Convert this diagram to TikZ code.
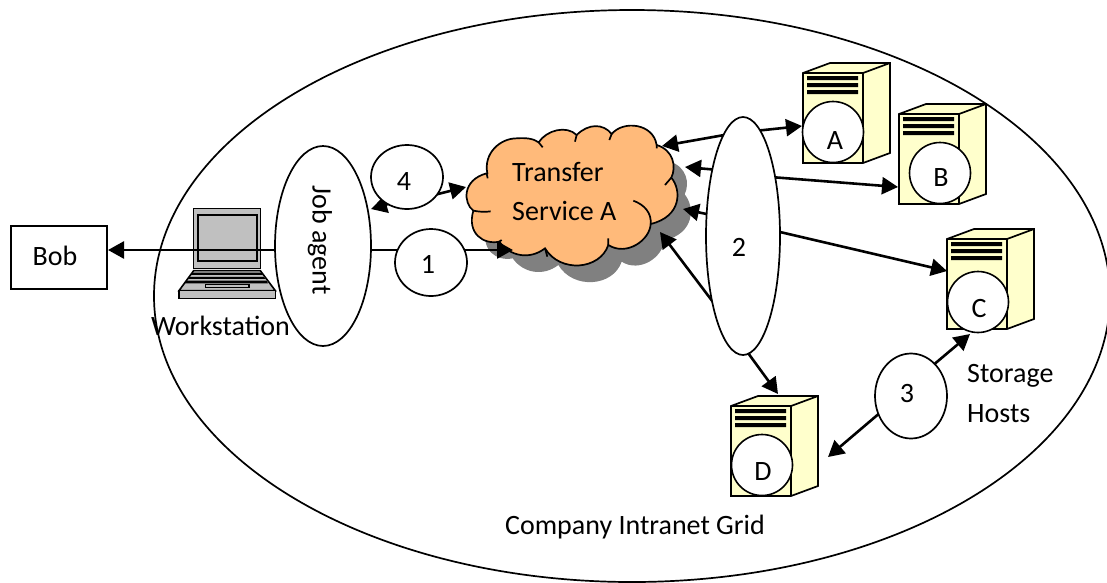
\documentclass[tikz,border=0pt]{standalone}
\usepackage{fontspec}
\setmainfont{Carlito}
\usetikzlibrary{shapes.geometric,arrows.meta}
\definecolor{srv}{RGB}{255,255,204}
\definecolor{cloudfill}{RGB}{255,186,122}
\definecolor{shadowgray}{RGB}{128,128,128}
\definecolor{lapgray}{RGB}{192,192,192}
\tikzset{
  x=1pt,y=-1pt,
  conn/.style={line width=2.6pt,-{Triangle[length=16pt,width=17pt]}},
  oval/.style={ellipse,draw,line width=1.7pt,fill=white,inner sep=0pt},
  txt/.style={font=\fontsize{28}{32}\selectfont,inner sep=0pt},
  disc/.style={circle,draw,line width=1.6pt,fill=white,minimum size=61pt,inner sep=0pt},
}
\newcommand{\cloudshape}{
  (82,190) .. controls (70,130) and (120,85) .. (170,85)
  .. controls (195,83) and (220,85) .. (236,97)
  .. controls (260,60) and (320,45) .. (350,75)
  .. controls (385,40) and (430,40) .. (455,72)
  .. controls (490,30) and (580,40) .. (590,105)
  .. controls (640,120) and (650,170) .. (634,203)
  .. controls (665,240) and (665,320) .. (572,342)
  .. controls (570,390) and (500,440) .. (445,405)
  .. controls (420,480) and (300,490) .. (255,415)
  .. controls (210,450) and (150,440) .. (118,395)
  .. controls (70,405) and (20,370) .. (40,302)
  .. controls (10,280) and (5,210) .. (80,190) -- cycle
}
\newcommand{\server}[2]{%
  \begin{scope}[shift={(#1,#2)},line width=1.7pt]
    \fill[srv,draw=black] (0,0) -- (27,-10) -- (87,-10) -- (87,80) -- (60,90) -- (0,90) -- cycle;
    \draw (0,0) -- (60,0) -- (60,90) (60,0) -- (87,-10);
    \fill[black] (4,3) rectangle (55,7) (4,10) rectangle (55,14) (4,17) rectangle (55,21);
  \end{scope}
}
\begin{document}
\begin{tikzpicture}
\useasboundingbox (0,0) rectangle (1107,582);
\fill[white] (0,0) rectangle (1107,582);
\node[ellipse,draw,line width=1.7pt,minimum width=956pt,minimum height=572pt,inner sep=0pt] (grid) at (632,296) {};
\server{803}{73}
\server{899}{114}
\server{947}{239}
\server{731}{406}
\node[disc] (A) at (833,132) {};
\node[disc] (B) at (940,173) {};
\node[disc] (C) at (978,302) {};
\node[disc] (D) at (762,465) {};
% laptop
\begin{scope}[line width=1.6pt,shift={(150,180)},x=0.3333pt,y=-0.3333pt]
  \draw[fill=lapgray] (131,86) rectangle (331,265);
  \draw[fill=lapgray,line width=2pt] (143,104) rectangle (321,244);
  \draw[fill=lapgray] (131,272) -- (331,272) -- (376,332) -- (87,332) -- cycle;
  \fill[black] (128,278) -- (335,278) -- (338,285) -- (122,285) -- cycle
    (118,291) -- (342,291) -- (346,297) -- (114,297) -- cycle
    (110,302) -- (350,302) -- (354,310) -- (104,310) -- cycle;
  \draw[fill=lapgray,line width=1.2pt] (166,314) rectangle (297,322);
  \draw[fill=lapgray] (87,332) rectangle (376,355);
\end{scope}
% cloud
\begin{scope}[shift={(460,110)},x=0.3333pt,y=-0.3333pt]
  \fill[shadowgray,shift={(40,50)}] \cloudshape;
  \draw[line width=1.7pt,fill=cloudfill] \cloudshape;
  \draw[line width=1.7pt]
    (520,272) .. controls (555,285) and (575,310) .. (572,342)
    (445,405) -- (445,385)
    (255,415) -- (262,440)
    (118,395) -- (125,390)
    (40,302) .. controls (55,305) and (75,307) .. (92,304)
    (80,190) -- (83,205)
    (236,97) -- (248,112)
    (350,75) -- (345,95)
    (455,72) -- (448,90)
    (590,105) -- (590,115)
    (634,203) -- (615,225);
\end{scope}
% named connector ends
\coordinate (bobend) at (108,250);
\coordinate (jobl) at (280,250);
\coordinate (jobr) at (365,250);
\coordinate (cloud1) at (513,250);
\coordinate (fourl) at (395,202);
\coordinate (fourtip) at (371,209);
\coordinate (fourr) at (430,196);
\coordinate (cloud4) at (466,187);
\coordinate (cloudA) at (662,146);
\coordinate (cloudB) at (685,167);
\coordinate (cloudC) at (683,209);
\coordinate (cloudD) at (660,232);
\coordinate (twoA) at (730,134);
\coordinate (twoB) at (730,171);
\coordinate (twoC) at (730,219);
\coordinate (twoD) at (716,306);
\coordinate (twoa) at (745,132);
\coordinate (tipA) at (802,126);
\coordinate (twob) at (745,175);
\coordinate (tipB) at (898,187);
\coordinate (twoc) at (750,225);
\coordinate (tipC) at (947,271);
\coordinate (twod) at (740,342);
\coordinate (tipD) at (778,394);
\coordinate (threeC) at (925,372);
\coordinate (tipC2) at (970,334);
\coordinate (threeD) at (895,400);
\coordinate (tipD2) at (828,457);
% connectors, behind the ovals
\draw[conn] (jobl) -- (bobend);
\draw[conn] (jobr) -- (cloud1);
\draw[conn] (fourl) -- (fourtip);
\draw[conn] (fourr) -- (cloud4);
\draw[conn] (twoA) -- (cloudA);
\draw[conn] (twoa) -- (tipA);
\draw[conn] (twoB) -- (cloudB);
\draw[conn] (twob) -- (tipB);
\draw[conn] (twoC) -- (cloudC);
\draw[conn] (twoc) -- (tipC);
\draw[conn] (twoD) -- (cloudD);
\draw[conn] (twod) -- (tipD);
\draw[conn] (threeC) -- (tipC2);
\draw[conn] (threeD) -- (tipD2);
% ovals
\node[oval,minimum width=96pt,minimum height=200pt] (job) at (323,246) {};
\node[oval,minimum width=74pt,minimum height=238pt] (two) at (743,236) {};
\node[oval,minimum width=72pt,minimum height=64pt] (four) at (407,177) {};
\node[oval,minimum width=72pt,minimum height=67pt] (one) at (431,262.5) {};
\node[oval,minimum width=72pt,minimum height=85pt] (three) at (911,396) {};
\node[draw,line width=1.7pt,minimum width=96pt,minimum height=63pt,inner sep=0pt] (bob) at (58.7,257.2) {};
% text
\node[txt,rotate=-90] (jobtext) at (320,240) {Job agent};
\node[txt] (t2) at (739,247) {2};
\node[txt] (t4) at (404,182) {4};
\node[txt] (t1) at (428,264) {1};
\node[txt] (t3) at (907,393) {3};
\node[txt] (tA) at (835,141) {A};
\node[txt] (tB) at (941,178) {B};
\node[txt] (tC) at (979,309) {C};
\node[txt] (tD) at (763,472) {D};
\node[txt] (tbob) at (55,256) {Bob};
\node[txt,anchor=base west] (svc1) at (512,181) {Transfer};
\node[txt,anchor=base west] (svc2) at (512,220) {Service A};
\node[txt,anchor=base west] (ws) at (151,335) {Workstation};
\node[txt] (gridlabel) at (635,527) {Company Intranet Grid};
\node[txt,anchor=base west] (sh1) at (967,382) {Storage};
\node[txt,anchor=base west] (sh2) at (967,422) {Hosts};
\end{tikzpicture}
\end{document}
